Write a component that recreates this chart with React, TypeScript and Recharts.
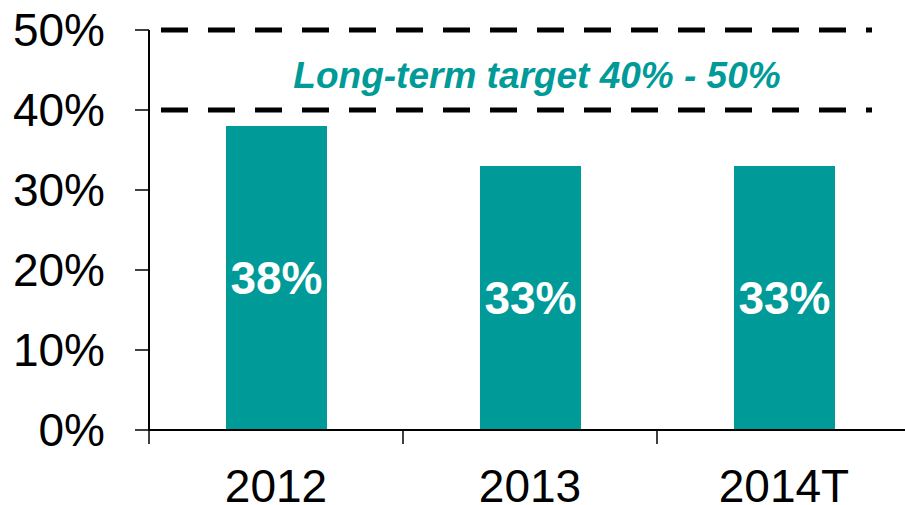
import { BarChart, Bar, XAxis, YAxis, ReferenceLine, ReferenceArea, LabelList } from 'recharts'

const years = ['2012', '2013', '2014T']
const payout = [38, 33, 33]
const yTicks = [0, 10, 20, 30, 40, 50]
const targetLow = 40
const targetHigh = 50
const targetText = 'Long-term target 40% - 50%'

const TEAL = '#009a98'
const FONT = '"Liberation Sans", Arial, sans-serif'
const TICK = 14
const TICK_GAP = 25

const data = years.map((year, i) => ({ year, value: payout[i] }))

// dashed target line, trimmed a bit at both ends like the slide
function DashedTarget(props: any) {
  const { x1, x2, y1 } = props
  return (
    <line
      x1={x1 + 12}
      x2={x2 - 39}
      y1={y1}
      y2={y1}
      stroke="#000"
      strokeWidth={5}
      strokeDasharray="27 20"
    />
  )
}

// category label, plus a tick mark on the left edge of its band
function YearTick(props: any) {
  const { x, y, payload } = props
  const half = payload?.offset || 127
  const axisY = y - TICK - TICK_GAP
  return (
    <g>
      <line x1={x - half} x2={x - half} y1={axisY} y2={axisY + TICK} stroke="#000" strokeWidth={1.5} />
      <text x={x} y={y} dy="0.71em" textAnchor="middle" fontSize={46} fill="#000">
        {payload.value}
      </text>
    </g>
  )
}

export default function App() {
  return (
    <div style={{ position: 'absolute', left: 0, top: 0, width: 905, height: 505, overflow: 'hidden', background: '#fff' }}>
      <BarChart
        width={911}
        height={505}
        data={data}
        margin={{ top: 30, right: 0, bottom: 0, left: 0 }}
        style={{ fontFamily: FONT }}
      >
        <XAxis
          dataKey="year"
          height={75}
          axisLine={{ stroke: '#000', strokeWidth: 2 }}
          tickLine={false}
          tickSize={TICK}
          tickMargin={TICK_GAP}
          tick={<YearTick />}
        />
        <YAxis
          domain={[0, 50]}
          ticks={yTicks}
          width={149}
          tickFormatter={(v) => `${v}%`}
          axisLine={{ stroke: '#000', strokeWidth: 2 }}
          tickLine={{ stroke: '#000', strokeWidth: 1.5 }}
          tickSize={TICK}
          tickMargin={30}
          tick={{ fontSize: 46, fill: '#000' }}
        />
        <ReferenceArea
          y1={targetLow}
          y2={targetHigh}
          fill="none"
          stroke="none"
          label={{
            value: targetText,
            position: 'center',
            fill: TEAL,
            fontSize: 37,
            fontStyle: 'italic',
            fontWeight: 'bold',
            dx: 7,
            dy: 5,
          }}
        />
        <ReferenceLine y={targetHigh} shape={DashedTarget} />
        <ReferenceLine y={targetLow} shape={DashedTarget} />
        <Bar dataKey="value" fill={TEAL} barSize={101} isAnimationActive={false}>
          <LabelList
            dataKey="value"
            position="center"
            formatter={(v: any) => `${v}%`}
            fill="#fff"
            fontSize={46}
            fontWeight="bold"
          />
        </Bar>
      </BarChart>
    </div>
  )
}
